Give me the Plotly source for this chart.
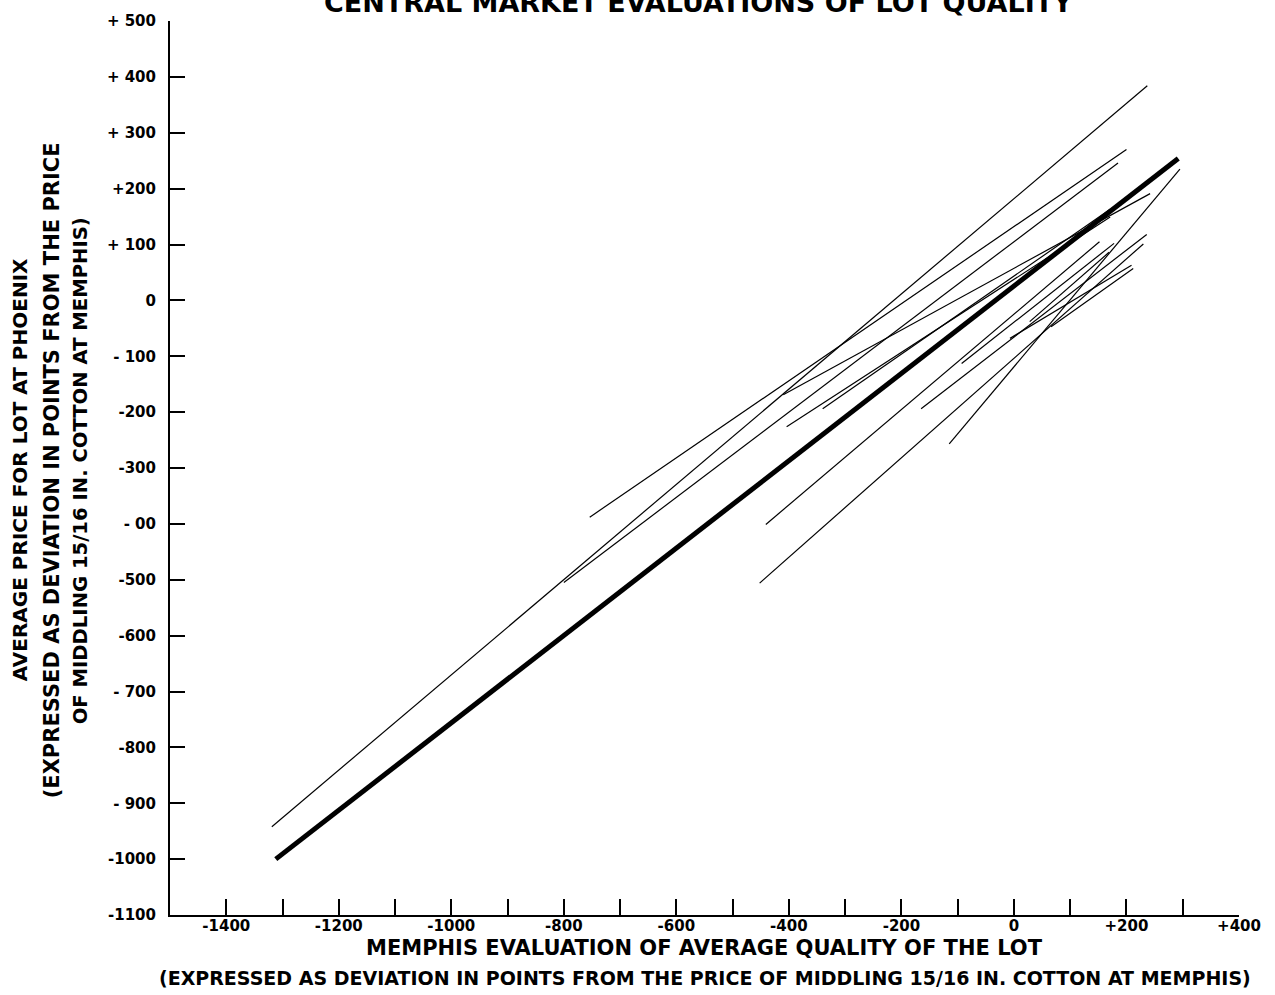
import plotly.graph_objects as go

# ---- data (points, deviation from Middling 15/16 in. at Memphis) ----
# heavy line: average relationship
avg_x = [-1312, 292]
avg_y = [-1000, 254]

# light lines: individual relationships (start -> end)
line_x0 = [-1319, -754, -800, -410, -404, -340, -115, -441, -452, -165, -93, 66, -7, 28]
line_y0 = [-942, -388, -505, -169, -226, -194, -257, -401, -506, -194, -113, -47, -68, -38]
line_x1 = [237, 200, 185, 242, 171, 171, 295, 152, 230, 236, 178, 212, 209, 169]
line_y1 = [384, 270, 246, 191, 149, 163, 235, 105, 101, 118, 102, 57, 63, 86]

x_tick_vals = list(range(-1400, 401, 100))
x_tick_text = ["-1400", "", "-1200", "", "-1000", "", "-800", "", "-600", "", "-400", "",
               "-200", "", "0", "", "+200", "", "+400"]
y_tick_vals = list(range(-1100, 501, 100))
y_tick_text = ["-1100", "-1000", "- 900", "-800", "- 700", "-600", "-500", "- 00", "-300",
               "-200", "- 100", "0", "+ 100", "+200", "+ 300", "+ 400", "+ 500"]

title_text = "CENTRAL MARKET EVALUATIONS OF LOT QUALITY"
x_title_1 = "MEMPHIS EVALUATION OF AVERAGE QUALITY OF THE LOT"
x_title_2 = "(EXPRESSED AS DEVIATION IN POINTS FROM THE PRICE OF MIDDLING 15/16 IN. COTTON AT MEMPHIS)"
y_title_1 = "AVERAGE PRICE FOR LOT AT PHOENIX"
y_title_2 = "(EXPRESSED AS DEVIATION IN POINTS FROM THE PRICE"
y_title_3 = "OF MIDDLING 15/16 IN. COTTON AT MEMPHIS)"

FONT = "DejaVu Sans"

thin_x, thin_y = [], []
for a, b, c, d in zip(line_x0, line_y0, line_x1, line_y1):
    thin_x += [a, c, None]
    thin_y += [b, d, None]

fig = go.Figure()
fig.add_trace(go.Scatter(x=thin_x, y=thin_y, mode="lines",
                         line=dict(color="black", width=1.2), hoverinfo="skip"))
fig.add_trace(go.Scatter(x=avg_x, y=avg_y, mode="lines",
                         line=dict(color="black", width=5), hoverinfo="skip"))

fig.update_layout(
    width=1275, height=995,
    margin=dict(l=170, r=36, t=16, b=80),
    paper_bgcolor="white", plot_bgcolor="white",
    showlegend=False,
    font=dict(family=FONT, color="black", size=15),
)
fig.update_xaxes(range=[-1500, 400], showgrid=False, zeroline=False,
                 showline=True, linecolor="black", linewidth=2,
                 ticks="inside", ticklen=16, tickwidth=1.6, tickcolor="black",
                 tickvals=x_tick_vals, ticktext=x_tick_text,
                 tickfont=dict(family=FONT, size=15, weight="bold"), ticklabelstandoff=-4)
fig.update_yaxes(range=[-1100, 500], showgrid=False, zeroline=False,
                 showline=True, linecolor="black", linewidth=2,
                 ticks="inside", ticklen=15, tickwidth=1.6, tickcolor="black",
                 tickvals=y_tick_vals, ticktext=y_tick_text,
                 tickfont=dict(family=FONT, size=15, weight="bold"), ticklabelstandoff=9)

ann = []
ann.append(dict(text=title_text, xref="paper", yref="paper", x=0.494, y=1.001,
                xanchor="center", yanchor="bottom", showarrow=False,
                font=dict(family=FONT, size=27, weight="bold")))
ann.append(dict(text=x_title_1, xref="paper", yref="paper", x=0.5, y=-0.0365,
                xanchor="center", yanchor="middle", showarrow=False,
                font=dict(family=FONT, size=21, weight="bold")))
ann.append(dict(text=x_title_2, xref="paper", yref="paper", x=0.5, y=-0.0703,
                xanchor="center", yanchor="middle", showarrow=False,
                font=dict(family=FONT, size=19, weight="bold")))
for txt, xp, fs in [(y_title_1, -0.1403, 20), (y_title_2, -0.1104, 21), (y_title_3, -0.0842, 19.6)]:
    ann.append(dict(text=txt, xref="paper", yref="paper", x=xp, y=0.4974,
                    xanchor="center", yanchor="middle", showarrow=False, textangle=-90,
                    font=dict(family=FONT, size=fs, weight="bold")))
fig.update_layout(annotations=ann)

fig.write_html("out.html", config={"displayModeBar": False},
               post_script="document.body.style.margin='0';")
